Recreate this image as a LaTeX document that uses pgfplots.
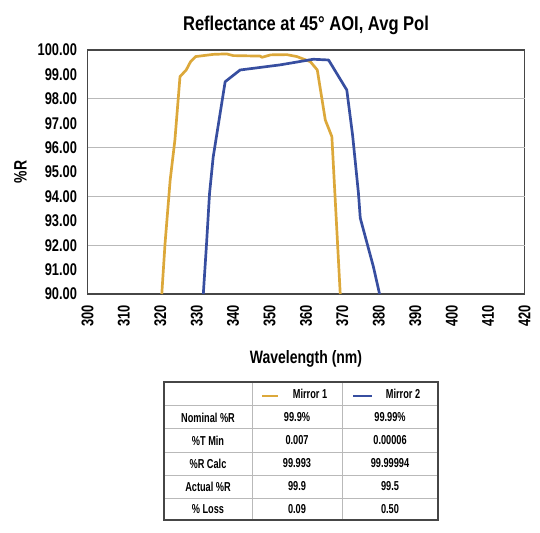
\documentclass[border=0pt]{standalone}
\usepackage{fontspec}
\setmainfont{Liberation Sans}[FakeStretch=0.78]
\newfontfamily\tickfont{Liberation Sans}[FakeStretch=0.76]
\newfontfamily\tablefont{Liberation Sans}[FakeStretch=0.71]
\newfontfamily\titlefont{Liberation Sans}[FakeStretch=0.83]
\usepackage{pgfplots}
\pgfplotsset{compat=1.18}
\definecolor{gold}{RGB}{220,168,58}
\definecolor{navy}{RGB}{55,78,160}
\definecolor{gridgray}{RGB}{185,185,185}
\definecolor{framegray}{RGB}{70,70,70}

% Mirror 1 and Mirror 2, %R against wavelength (nm)
\pgfplotstableread{
x y
320.4 90.00
321.3 92.08
322.7 94.67
324.0 96.31
325.4 98.91
327.1 99.18
328.3 99.52
329.7 99.73
334.5 99.82
338.2 99.84
340.0 99.77
347.4 99.75
347.9 99.70
350.3 99.80
354.7 99.81
357.5 99.73
361.2 99.52
363.1 99.18
365.3 97.13
367.1 96.45
369.4 90.00
}\mirrorone
\pgfplotstableread{
x y
331.8 90.00
332.7 92.09
333.5 94.10
334.5 95.60
337.8 98.70
341.9 99.18
352.9 99.39
362.0 99.62
366.2 99.59
371.2 98.36
372.8 96.50
374.4 94.13
374.9 93.11
378.5 91.12
380.2 90.00
}\mirrortwo

\begin{document}
\begin{tikzpicture}[x=1bp,y=1bp]
\useasboundingbox (0,0) rectangle (540,533);
\begin{axis}[
  at={(87.5bp,239bp)}, anchor=south west, scale only axis,
  width=437bp, height=244bp,
  xmin=300, xmax=420, ymin=90, ymax=100,
  xtick={300,310,...,420}, ytick={90,91,...,100},
  extra y ticks={92,94,96,98}, extra y tick labels={},
  extra y tick style={ymajorgrids=true, major grid style={gridgray, line width=0.9pt}},
  major tick length=0pt,
  axis line style={framegray, line width=1.4pt},
  /pgf/number format/assume math mode=true,
  yticklabel shift=7bp, xticklabel shift=8bp,
  y tick label style={font=\tickfont\bfseries\fontsize{17}{17}\selectfont, /pgf/number format/.cd, fixed, fixed zerofill, precision=2},
  x tick label style={font=\tickfont\bfseries\fontsize{17}{17}\selectfont, rotate=90, anchor=east, /pgf/number format/1000 sep={}},
  title={Reflectance at 45° AOI, Avg Pol},
  title style={font=\titlefont\bfseries\fontsize{20}{20}\selectfont, yshift=6bp},
  xlabel={\bfseries Wavelength (nm)},
  xlabel style={font=\fontsize{18}{18}\selectfont, yshift=-17bp},
  ylabel={\bfseries \%R},
  ylabel style={font=\fontsize{18}{18}\selectfont, yshift=-10bp},
  clip=false,
]
\addplot[gold, line width=2.7pt, line join=round] table {\mirrorone};
\addplot[navy, line width=2.7pt, line join=round] table {\mirrortwo};
\end{axis}
% table below the chart
\begin{scope}[font=\tablefont\bfseries\fontsize{13}{13}\selectfont]
\foreach \y in {127,104,81,58,35} \draw[gridgray, line width=1pt] (164,\y) -- (438,\y);
\draw[gridgray, line width=1pt] (252,13) -- (252,151);
\draw[gridgray, line width=1pt] (342,13) -- (342,151);
\draw[framegray, line width=1.3pt] (164,13) rectangle (438,151);
\draw[gold, line width=2.7pt] (262,137) -- (278,137);
\draw[navy, line width=2.7pt] (353,137) -- (372,137);
\node at (310,139) {Mirror 1};
\node at (403,139) {Mirror 2};
\node at (208,115.5) {Nominal \%R};
\node at (297,115.5) {99.9\%};
\node at (390,115.5) {99.99\%};
\node at (208,92.5) {\%T Min};
\node at (297,92.5) {0.007};
\node at (390,92.5) {0.00006};
\node at (208,69.5) {\%R Calc};
\node at (297,69.5) {99.993};
\node at (390,69.5) {99.99994};
\node at (208,46.5) {Actual \%R};
\node at (297,46.5) {99.9};
\node at (390,46.5) {99.5};
\node at (208,24) {\% Loss};
\node at (297,24) {0.09};
\node at (390,24) {0.50};
\end{scope}
\end{tikzpicture}
\end{document}
